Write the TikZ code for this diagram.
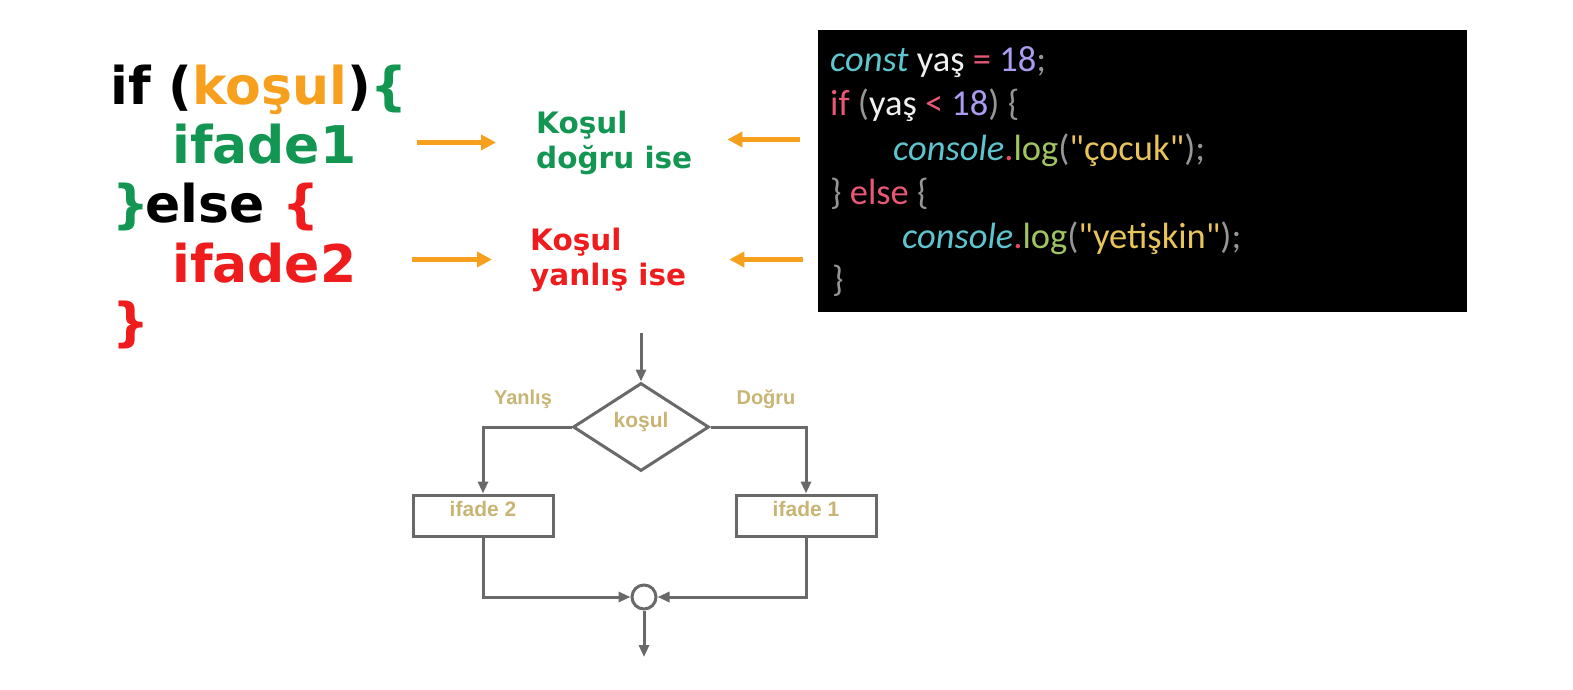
\documentclass[tikz,border=0pt]{standalone}
\usepackage{fontspec}
\setmainfont{DejaVu Sans}
\newfontfamily\codefont{Carlito}
\newfontfamily\chartfont{Liberation Sans}
\usetikzlibrary{arrows.meta,shapes.geometric}
\definecolor{kgreen}{RGB}{18,150,82}
\definecolor{kred}{RGB}{238,28,28}
\definecolor{korange}{RGB}{247,160,30}
\definecolor{flowgray}{RGB}{105,105,105}
\definecolor{flowtext}{RGB}{200,180,115}
\definecolor{ccyan}{RGB}{94,196,206}
\definecolor{cwhite}{RGB}{240,240,240}
\definecolor{cpink}{RGB}{232,88,118}
\definecolor{cpurple}{RGB}{170,156,240}
\definecolor{cgray}{RGB}{150,150,150}
\definecolor{cdot}{RGB}{232,72,96}
\definecolor{clog}{RGB}{160,196,96}
\definecolor{cstr}{RGB}{232,196,90}
\tikzset{
  bigcode/.style={anchor=base west, inner sep=0pt, font=\fontsize{52}{59}\bfseries},
  note/.style={anchor=base west, inner sep=0pt, align=left, font=\fontsize{29.5}{35}\bfseries},
  hint/.style={-{Triangle[length=15pt,width=15pt]}, draw=korange, line width=5pt},
  code/.style={anchor=base west, inner sep=0pt, font=\codefont\fontsize{36.5}{44}\selectfont},
  flow/.style={draw=flowgray, line width=3pt},
  stmt/.style={flow, rectangle, minimum width=140pt, inner sep=0pt,
    text height=21pt, text depth=20pt, text=flowtext, font=\chartfont\fontsize{21}{24}\bfseries},
  decision/.style={flow, diamond, minimum width=136pt, minimum height=88pt, inner sep=0pt,
    text height=0pt, text depth=0pt, text=flowtext, font=\chartfont\fontsize{21}{24}\bfseries},
  branch/.style={text=flowtext, font=\chartfont\fontsize{20}{24}\bfseries}
}
\begin{document}
\begin{tikzpicture}[x=1pt,y=-1pt,>={Triangle[length=12pt,width=10pt]}]
  \useasboundingbox[fill=white] (0,0) rectangle (1573,690);

  % if / else in words
  \node[bigcode] (ifline)   at (110,105) {if (\textcolor{korange}{koşul})\textcolor{kgreen}{\{}};
  \node[bigcode] (ifade1)   at (172,163) {\textcolor{kgreen}{ifade1}};
  \node[bigcode] (elseline) at (112,222) {\textcolor{kgreen}{\}}\kern-4pt else \textcolor{kred}{\{}};
  \node[bigcode] (ifade2)   at (172,282) {\textcolor{kred}{ifade2}};
  \node[bigcode] (endline)  at (112,340) {\textcolor{kred}{\}}};

  \node[note,text=kgreen] (dogru)  at (536,168) {Koşul\\doğru ise};
  \node[note,text=kred]   (yanlis) at (530,285) {Koşul\\yanlış ise};

  % javascript
  \node[fill=black, minimum width=649pt, minimum height=282pt, inner sep=0pt,
        anchor=north west] (codebox) at (818,30) {};
  \node[code] (c1) at (830,72)
    {\textcolor{ccyan}{\itshape const} \textcolor{cwhite}{yaş} \textcolor{cpink}{=} \textcolor{cpurple}{18}\textcolor{cgray}{;}};
  \node[code] (c2) at (830,116)
    {\textcolor{cpink}{if} \textcolor{cgray}{(}\textcolor{cwhite}{yaş} \textcolor{cpink}{<} \textcolor{cpurple}{18}\textcolor{cgray}{) \{}};
  \node[code] (c3) at (893,160)
    {\textcolor{ccyan}{\itshape console}\textcolor{cdot}{.}\textcolor{clog}{log}\textcolor{cgray}{(}\textcolor{cstr}{"çocuk"}\textcolor{cgray}{);}};
  \node[code] (c4) at (830,204)
    {\textcolor{cgray}{\}} \textcolor{cpink}{else} \textcolor{cgray}{\{}};
  \node[code] (c5) at (902,248)
    {\textcolor{ccyan}{\itshape console}\textcolor{cdot}{.}\textcolor{clog}{log}\textcolor{cgray}{(}\textcolor{cstr}{"yetişkin"}\textcolor{cgray}{);}};
  \node[code] (c6) at (832,291) {\textcolor{cgray}{\}}};

  \draw[hint] ([xshift=-119pt]dogru.west) -- ([xshift=-40pt]dogru.west);
  \draw[hint] ([xshift=-118pt]yanlis.west) -- ([xshift=-38pt]yanlis.west);
  \draw[hint] ([xshift=-18pt,yshift=3pt]codebox.west |- dogru.west) -- ([xshift=35pt,yshift=3pt]dogru.east);
  \draw[hint] ([xshift=-15pt]codebox.west |- yanlis.west) -- ([xshift=43pt]yanlis.east);

  % flowchart
  \coordinate (start) at (641,333);
  \node[decision] (kosul) at (641,427) {koşul};
  \node[stmt] (box2) at (483,515.5) {ifade 2};
  \node[stmt] (box1) at (806,515.5) {ifade 1};
  \node[flow, circle, minimum size=24pt, inner sep=0pt] (join) at (644,597) {};
  \coordinate (stop) at (644,657);
  \node[branch] (no)  at (523,399) {Yanlış};
  \node[branch] (yes) at (766,399) {Doğru};

  \draw[flow,->] (start) -- (kosul.north);
  \draw[flow,->] (kosul.west) -| (box2.north);
  \draw[flow,->] (kosul.east) -| (box1.north);
  \draw[flow,->] (box2.south) |- (join.west);
  \draw[flow,->] (box1.south) |- (join.east);
  \draw[flow,->] (join.south) -- (stop);
\end{tikzpicture}
\end{document}
